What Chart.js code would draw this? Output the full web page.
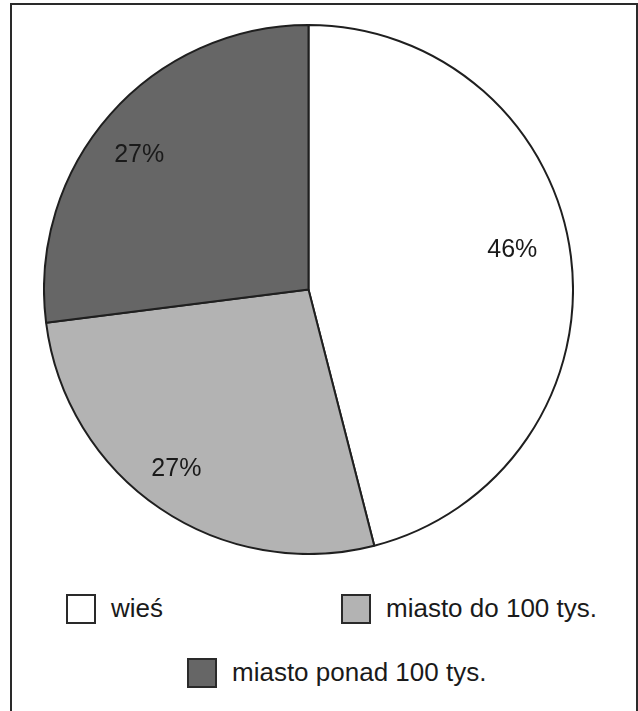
<!DOCTYPE html>
<html>
<head>
<meta charset="utf-8">
<script src="https://cdn.jsdelivr.net/npm/chart.js@4/dist/chart.umd.min.js"></script>
<style>
  html, body { margin: 0; padding: 0; background: #fff; }
  #page { position: relative; width: 638px; height: 711px; overflow: hidden; background: #fff;
          font-family: "Liberation Sans", Arial, Helvetica, sans-serif; color: #1a1a1a; }
  #frame { position: absolute; left: 10px; top: 3px; width: 640px; height: 720px;
           border-left: 2px solid #2a2a2a; border-top: 2px solid #2a2a2a; box-sizing: border-box; }
  #frameR { position: absolute; left: 636px; top: 3px; width: 2px; height: 720px; background: #2a2a2a; }
  #chartBox { position: absolute; left: 43px; top: 24px; width: 531px; height: 531px; }
  .leg { position: absolute; display: flex; align-items: center; font-size: 26px; white-space: nowrap; }
  .sw { width: 30px; height: 30px; box-sizing: border-box; border: 2px solid #2a2a2a; margin-right: 15px; }
</style>
</head>
<body>
<div id="page">
  <div id="frame"></div>
  <div id="frameR"></div>
  <div id="chartBox"><canvas id="c"></canvas></div>
  <div id="legend"></div>
</div>
<script>
const categories = ["wieś", "miasto do 100 tys.", "miasto ponad 100 tys."];
const shares = [46, 27, 27];
const sliceColors = ["#ffffff", "#b3b3b3", "#666666"];

// legend placement (layout only)
const legendPlacement = [
  { left: 66, top: 594 },
  { left: 341, top: 594 },
  { left: 187, top: 658 }
];
const legendEl = document.getElementById('legend');
categories.forEach((name, i) => {
  const d = document.createElement('div');
  d.className = 'leg';
  d.style.left = legendPlacement[i].left + 'px';
  d.style.top = legendPlacement[i].top + 'px';
  d.style.height = '30px';
  const sw = document.createElement('div');
  sw.className = 'sw';
  sw.style.background = sliceColors[i];
  d.appendChild(sw);
  const t = document.createElement('span');
  t.textContent = name;
  t.style.position = 'relative';
  t.style.top = '-1px';
  d.appendChild(t);
  legendEl.appendChild(d);
});

const sliceLabels = {
  id: 'sliceLabels',
  afterDatasetsDraw(chart, args, opts) {
    const ctx = chart.ctx;
    const meta = chart.getDatasetMeta(0);
    ctx.save();
    ctx.font = '25px "Liberation Sans", Arial, sans-serif';
    ctx.fillStyle = '#1a1a1a';
    ctx.textAlign = 'center';
    ctx.textBaseline = 'middle';
    meta.data.forEach((arc, i) => {
      const p = arc.getProps(['x', 'y', 'startAngle', 'endAngle', 'outerRadius'], true);
      const adj = opts.adjust[i] || { da: 0, rf: 0.8 };
      const mid = (p.startAngle + p.endAngle) / 2 + adj.da * Math.PI / 180;
      const r = p.outerRadius * adj.rf;
      const val = chart.data.datasets[0].data[i];
      ctx.fillText(val + '%', p.x + Math.cos(mid) * r, p.y + Math.sin(mid) * r + 1);
    });
    ctx.restore();
  }
};

new Chart(document.getElementById('c'), {
  type: 'pie',
  data: {
    labels: categories,
    datasets: [{
      data: shares,
      backgroundColor: sliceColors,
      borderColor: '#1f1f1f',
      borderWidth: 2,
      borderAlign: 'center'
    }]
  },
  options: {
    responsive: true,
    maintainAspectRatio: false,
    animation: false,
    events: [],
    layout: { padding: 0 },
    plugins: {
      legend: { display: false },
      tooltip: { enabled: false },
      sliceLabels: { adjust: [ { da: -3.9, rf: 0.785 }, { da: 2.3, rf: 0.84 }, { da: -2.7, rf: 0.82 } ] }
    }
  },
  plugins: [sliceLabels]
});
</script>
</body>
</html>
